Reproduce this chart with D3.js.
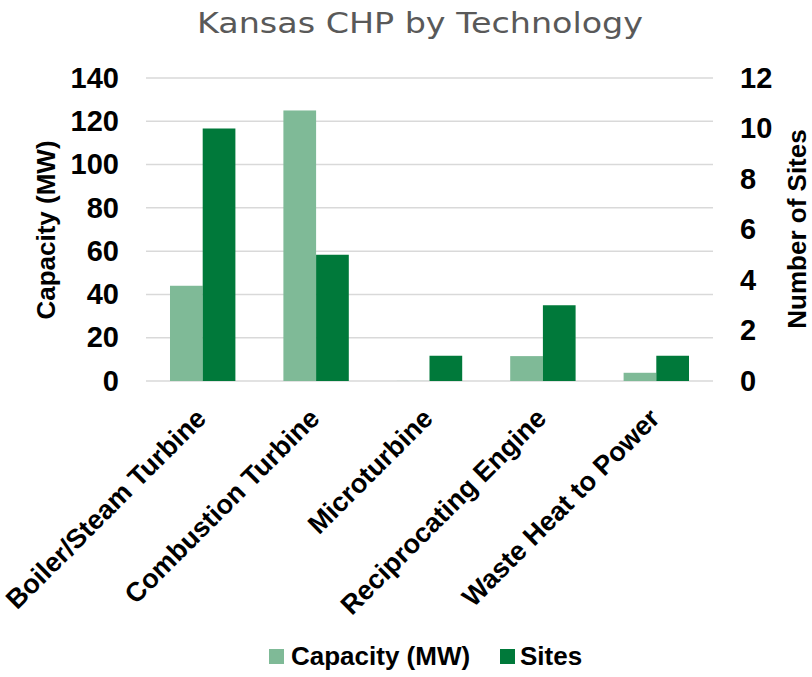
<!DOCTYPE html>
<html>
<head>
<meta charset="utf-8">
<script src="https://cdn.jsdelivr.net/npm/d3@7"></script>
<style>
  html, body { margin: 0; padding: 0; background: #fff; }
  svg { display: block; }
</style>
</head>
<body>
<svg id="chart" width="812" height="677"></svg>
<script>
const categories = ["Boiler/Steam Turbine", "Combustion Turbine", "Microturbine", "Reciprocating Engine", "Waste Heat to Power"];
const capacityMW = [44, 125, 0.03, 11.5, 3.8];
const sites = [10, 5, 1, 3, 1];
const seriesNames = ["Capacity (MW)", "Sites"];
const leftTicks = [0, 20, 40, 60, 80, 100, 120, 140];
const rightTicks = [0, 2, 4, 6, 8, 10, 12];
const colors = ["#7fba97", "#00793a"];

const svg = d3.select("#chart");
const plot = { left: 146, right: 713, top: 78, bottom: 381 };
const FONT = "'Liberation Sans', Arial, sans-serif";

const x0 = d3.scaleBand().domain(categories).range([plot.left, plot.right])
  .paddingInner(0.4233).paddingOuter(0.2116);
const x1 = d3.scaleBand().domain(seriesNames).range([0, x0.bandwidth()]).padding(0);
const yL = d3.scaleLinear().domain([0, 140]).range([plot.bottom, plot.top]);
const yR = d3.scaleLinear().domain([0, 12]).range([plot.bottom, plot.top]);

// Title
svg.append("text")
  .attr("x", 420).attr("y", 33)
  .attr("text-anchor", "middle")
  .attr("font-family", "'DejaVu Sans', sans-serif").attr("font-size", 28)
  .attr("fill", "#595959")
  .attr("textLength", 446).attr("lengthAdjust", "spacingAndGlyphs")
  .text("Kansas CHP by Technology");

// Gridlines
svg.append("g").selectAll("line").data(leftTicks).join("line")
  .attr("x1", plot.left).attr("x2", plot.right)
  .attr("y1", d => yL(d)).attr("y2", d => yL(d))
  .attr("stroke", "#d9d9d9").attr("stroke-width", 1.5);

// Bars
const groups = svg.append("g").selectAll("g").data(categories).join("g")
  .attr("transform", d => `translate(${x0(d)},0)`);
groups.append("rect")
  .attr("x", x1(seriesNames[0])).attr("width", x1.bandwidth())
  .attr("y", (d, i) => yL(capacityMW[i]))
  .attr("height", (d, i) => yL(0) - yL(capacityMW[i]))
  .attr("fill", colors[0]);
groups.append("rect")
  .attr("x", x1(seriesNames[1])).attr("width", x1.bandwidth())
  .attr("y", (d, i) => yR(sites[i]))
  .attr("height", (d, i) => yR(0) - yR(sites[i]))
  .attr("fill", colors[1]);

// Left axis
const axL = svg.append("g").attr("transform", `translate(${plot.left},0)`)
  .call(d3.axisLeft(yL).tickValues(leftTicks).tickSize(0).tickPadding(27));
axL.select(".domain").remove();
axL.selectAll("text").attr("font-family", FONT).attr("font-size", 29)
  .attr("font-weight", "bold").attr("fill", "#000");

// Right axis
const axR = svg.append("g").attr("transform", `translate(${plot.right},0)`)
  .call(d3.axisRight(yR).tickValues(rightTicks).tickSize(0).tickPadding(27));
axR.select(".domain").remove();
axR.selectAll("text").attr("font-family", FONT).attr("font-size", 29)
  .attr("font-weight", "bold").attr("fill", "#000");

// Bottom axis (category labels)
const axB = svg.append("g").attr("transform", `translate(0,${plot.bottom})`)
  .call(d3.axisBottom(x0).tickSize(0));
axB.select(".domain").remove();
axB.selectAll("text")
  .attr("font-family", FONT).attr("font-size", 27).attr("font-weight", "bold")
  .attr("fill", "#000")
  .attr("text-anchor", "end")
  .attr("x", 0).attr("y", 0).attr("dy", 0)
  .attr("transform", "translate(5,39) rotate(-45)");

// Axis titles
svg.append("text")
  .attr("transform", "translate(55,230) rotate(-90)")
  .attr("text-anchor", "middle")
  .attr("font-family", FONT).attr("font-size", 26).attr("font-weight", "bold")
  .attr("fill", "#000")
  .text("Capacity (MW)");
svg.append("text")
  .attr("transform", "translate(806,229) rotate(-90)")
  .attr("text-anchor", "middle")
  .attr("font-family", FONT).attr("font-size", 26).attr("font-weight", "bold")
  .attr("fill", "#000")
  .text("Number of Sites");

// Legend
const legendX = [269, 500];
const lg = svg.append("g").selectAll("g").data(seriesNames).join("g")
  .attr("transform", (d, i) => `translate(${legendX[i]},649)`);
lg.append("rect").attr("width", 15).attr("height", 15)
  .attr("fill", (d, i) => colors[i]);
lg.append("text").attr("x", (d, i) => i === 0 ? 22 : 20).attr("y", 16)
  .attr("font-family", FONT).attr("font-size", 26).attr("font-weight", "bold")
  .attr("fill", "#000")
  .text(d => d);
</script>
</body>
</html>
